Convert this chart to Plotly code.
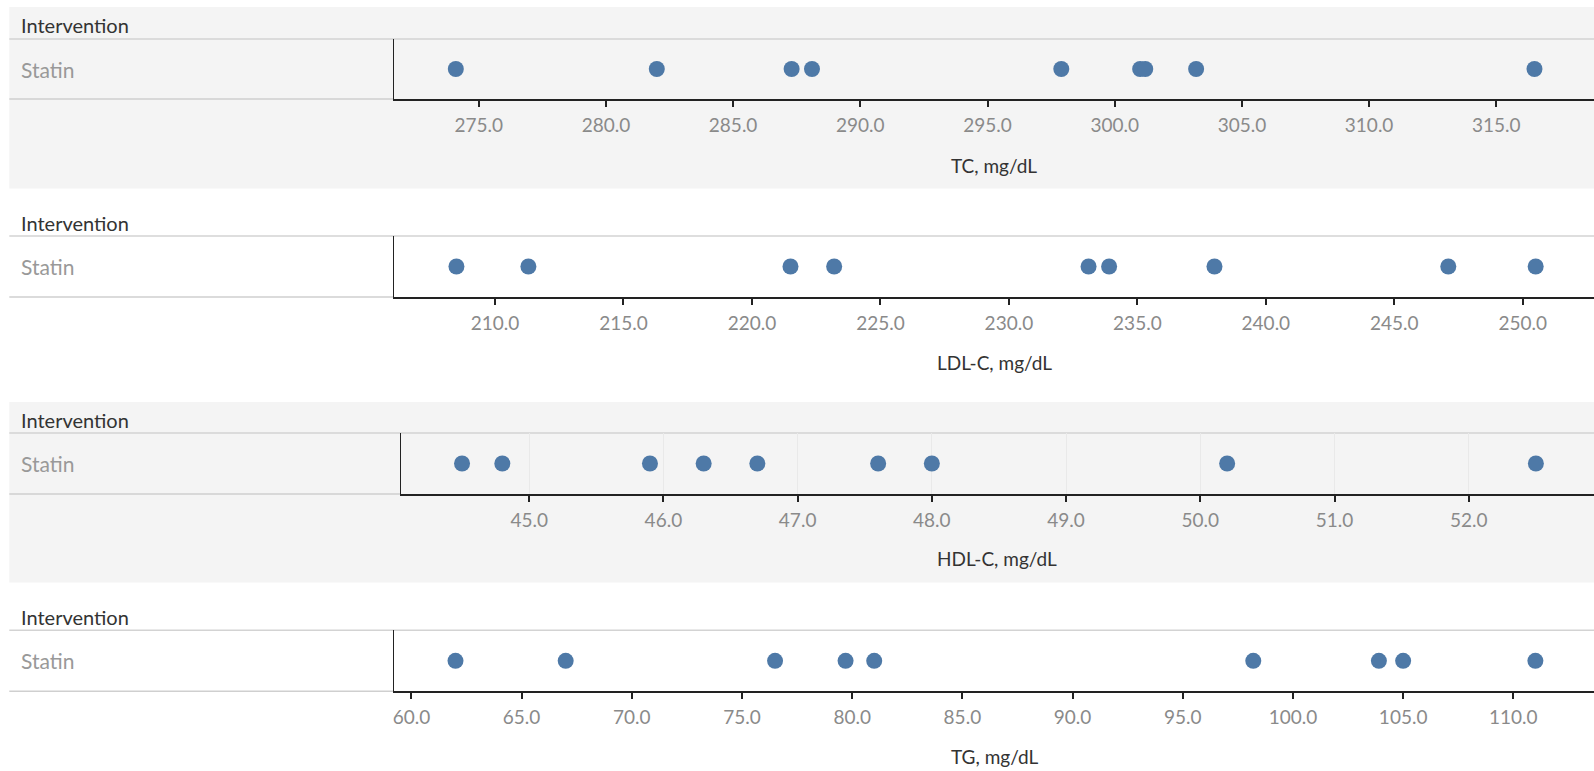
import plotly.graph_objects as go

# Lipid measurements for the statin group, one strip per measure
group = "Statin"
row_header = "Intervention"
tc = [274.1, 282.0, 287.3, 288.1, 297.9, 301.0, 301.2, 303.2, 316.5]
ldl = [208.5, 211.3, 221.5, 223.2, 233.1, 233.9, 238.0, 247.1, 250.5]
hdl = [44.5, 44.8, 45.9, 46.3, 46.7, 47.6, 48.0, 50.2, 52.5]
tg = [62.0, 67.0, 76.5, 79.7, 81.0, 98.2, 103.9, 105.0, 111.0]
measures = ["TC, mg/dL", "LDL-C, mg/dL", "HDL-C, mg/dL", "TG, mg/dL"]
series = [tc, ldl, hdl, tg]

W, H = 1594, 771
FONT = "Lato"
DOT = "#4e79a7"

# panel geometry in pixels
x_ranges = [[271.67, 318.84], [206.07, 252.77], [44.043, 52.933], [59.21, 113.66]]
steps = [5, 5, 1, 5]
plot_left = [394, 394, 400.7, 394]
header_y = [25.4, 222.6, 420.0, 617.0]
top_y = [39.0, 236.0, 433.0, 630.3]
bottom_y = [99.0, 297.0, 494.0, 691.3]
title_y = [165.7, 362.0, 558.0, 756.3]
shaded = [(7, 188.5), None, (402, 582.5), None]
grid = [False, False, True, False]


def py(v):
    return 1 - v / H


def px(v):
    return v / W


fig = go.Figure()
shapes, annotations = [], []

for i, vals in enumerate(series):
    n = i + 1
    xa = "x" if n == 1 else f"x{n}"
    ya = "y" if n == 1 else f"y{n}"
    fig.add_trace(go.Scatter(
        x=vals, y=[0] * len(vals), mode="markers",
        marker=dict(size=16, color=DOT, line=dict(width=0)),
        xaxis=xa, yaxis=ya, showlegend=False,
        hovertemplate=measures[i] + ": %{x:.1f}<extra>" + group + "</extra>",
    ))
    xkey = "xaxis" if n == 1 else f"xaxis{n}"
    ykey = "yaxis" if n == 1 else f"yaxis{n}"
    fig.update_layout({
        xkey: dict(
            domain=[px(plot_left[i]), 1], anchor=ya, range=x_ranges[i],
            tick0=0, dtick=steps[i], tickformat=".1f",
            showline=True, linecolor="#222", linewidth=2,
            ticks="outside", ticklen=6, tickwidth=1.5, tickcolor="#222",
            ticklabelstandoff=2,
            tickfont=dict(family=FONT, size=19, color="#8a8a8a"),
            showgrid=grid[i], gridcolor="#e9e9e9", gridwidth=1,
            zeroline=False, fixedrange=True,
        ),
        ykey: dict(
            domain=[py(bottom_y[i]), py(top_y[i])], anchor=xa, range=[-1, 1],
            showline=True, linecolor="#222", linewidth=1,
            showticklabels=False, ticks="", showgrid=False, zeroline=False,
            fixedrange=True,
        ),
    })

    if shaded[i]:
        shapes.append(dict(type="rect", xref="paper", yref="paper", layer="below",
                           x0=px(9.3), x1=1, y0=py(shaded[i][1]), y1=py(shaded[i][0]),
                           fillcolor="#f4f4f4", line=dict(width=0)))
    # header rule across the full width, row rule under the label column
    shapes.append(dict(type="line", xref="paper", yref="paper", layer="below",
                       x0=px(9.3), x1=1, y0=py(top_y[i]), y1=py(top_y[i]),
                       line=dict(color="#d3d3d3", width=1.5)))
    shapes.append(dict(type="line", xref="paper", yref="paper", layer="below",
                       x0=px(9.3), x1=px(plot_left[i]), y0=py(bottom_y[i]), y1=py(bottom_y[i]),
                       line=dict(color="#cfcfcf", width=1.5)))

    annotations.append(dict(text=row_header, xref="paper", yref="paper",
                            x=px(19), y=py(header_y[i]), xanchor="left", yanchor="middle",
                            showarrow=False, font=dict(family=FONT, size=20, color="#333333")))
    annotations.append(dict(text=group, xref="paper", yref="paper",
                            x=px(19), y=py((top_y[i] + bottom_y[i]) / 2), xanchor="left",
                            yanchor="middle", showarrow=False,
                            font=dict(family=FONT, size=21, color="#999999")))
    annotations.append(dict(text=measures[i], xref="paper", yref="paper",
                            x=px((plot_left[i] + W) / 2), y=py(title_y[i]),
                            xanchor="center", yanchor="middle", showarrow=False,
                            font=dict(family=FONT, size=19, color="#333333")))

fig.update_layout(
    width=W, height=H,
    margin=dict(l=0, r=0, t=0, b=0),
    paper_bgcolor="white", plot_bgcolor="rgba(0,0,0,0)",
    shapes=shapes, annotations=annotations,
    font=dict(family=FONT),
)

fig.write_html("out.html")
